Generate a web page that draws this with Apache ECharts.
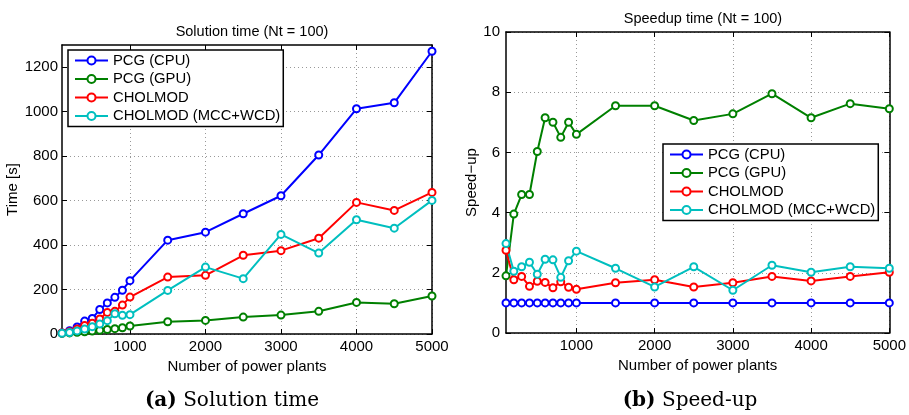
<!DOCTYPE html>
<html>
<head>
<meta charset="utf-8">
<script src="https://cdn.jsdelivr.net/npm/echarts@6/dist/echarts.min.js"></script>
<style>
html, body { margin: 0; padding: 0; background: #fff; }
#main { width: 909px; height: 415px; }
</style>
</head>
<body>
<div id="main"></div>
<script>
var plants = [100, 200, 300, 400, 500, 600, 700, 800, 900, 1000, 1500, 2000, 2500, 3000, 3500, 4000, 4500, 5000];
var xTicks = [1000, 2000, 3000, 4000, 5000];
var timeTicks = [0, 200, 400, 600, 800, 1000, 1200];

// solution time [s]
var timePcgCpu = [5, 15, 32, 58, 70, 110, 140, 165, 197, 240, 422, 458, 541, 622, 805, 1013, 1040, 1272];
var timePcgGpu = [3, 5, 8, 10, 13, 17, 20, 24, 28, 36, 55, 61, 76, 85, 102, 142, 136, 171];
var timeChol = [5, 10, 22, 38, 48, 68, 97, 102, 130, 166, 256, 264, 354, 375, 431, 592, 556, 637];
var timeCholMcc = [3, 7, 14, 22, 33, 45, 60, 91, 84, 87, 196, 301, 249, 448, 364, 514, 476, 601];

// speed-up
var spPcgCpu = [1, 1, 1, 1, 1, 1, 1, 1, 1, 1, 1, 1, 1, 1, 1, 1, 1, 1];
var spPcgGpu = [1.9, 3.95, 4.6, 4.6, 6.03, 7.15, 7.0, 6.5, 7.0, 6.6, 7.55, 7.55, 7.06, 7.28, 7.95, 7.15, 7.62, 7.45];
var spChol = [2.75, 1.77, 1.88, 1.55, 1.72, 1.68, 1.5, 1.7, 1.52, 1.45, 1.67, 1.77, 1.53, 1.67, 1.88, 1.73, 1.88, 2.02];
var spCholMcc = [2.97, 2.05, 2.2, 2.35, 1.95, 2.45, 2.43, 1.85, 2.4, 2.72, 2.15, 1.53, 2.2, 1.42, 2.25, 2.02, 2.2, 2.15];

var names = ['PCG (CPU)', 'PCG (GPU)', 'CHOLMOD', 'CHOLMOD (MCC+WCD)'];
var colors = ['#0000ff', '#008000', '#ff0000', '#00bfbf'];

var font = 'Liberation Sans';

function pairs(ys) {
    return plants.map(function (x, i) { return [x, ys[i]]; });
}

function plain(v) { return String(v); }

function mkSeries(name, color, ys, gi) {
    return {
        name: name,
        type: 'line',
        xAxisIndex: gi,
        yAxisIndex: gi,
        data: pairs(ys),
        symbol: 'emptyCircle',
        symbolSize: 7,
        color: color,
        lineStyle: { width: 2, color: color },
        itemStyle: { color: color, borderColor: color, borderWidth: 1.6 },
        emphasis: { disabled: true },
        animation: false
    };
}

var boxLine = { show: true, onZero: false, lineStyle: { color: '#000', width: 1.5 } };
var gridLine = { show: true, lineStyle: { color: '#999', type: [1, 3], width: 1 } };

function xMain(gi) {
    return {
        type: 'value', gridIndex: gi, min: 100, max: 5000,
        name: 'Number of power plants', nameLocation: 'middle', nameGap: 20,
        nameTextStyle: { fontFamily: font, fontSize: 15, color: '#000' },
        axisLine: boxLine,
        axisTick: { inside: true, length: 5, customValues: xTicks, lineStyle: { color: '#000' } },
        axisLabel: { customValues: xTicks, formatter: plain, fontFamily: font, fontSize: 15, color: '#000', margin: 5 },
        splitLine: gridLine
    };
}
function xTop(gi) {
    return {
        type: 'value', gridIndex: gi, min: 100, max: 5000, position: 'top',
        axisLine: boxLine,
        axisTick: { inside: true, length: 5, customValues: xTicks, lineStyle: { color: '#000' } },
        axisLabel: { show: false },
        splitLine: { show: false }
    };
}

var option = {
    backgroundColor: '#fff',
    animation: false,
    title: [
        { text: 'Solution time (Nt = 100)', left: 247, top: 19, textAlign: 'center',
          textStyle: { fontFamily: font, fontSize: 14.5, fontWeight: 'normal', color: '#000' } },
        { text: 'Speedup time (Nt = 100)', left: 698, top: 6, textAlign: 'center',
          textStyle: { fontFamily: font, fontSize: 14.5, fontWeight: 'normal', color: '#000' } },
        { text: '{b|(a)} Solution time', left: 227, top: 386, textAlign: 'center',
          textStyle: { fontFamily: 'DejaVu Serif', fontSize: 20, fontWeight: 'normal', color: '#000',
            rich: { b: { fontFamily: 'DejaVu Serif', fontSize: 20, fontWeight: 'bold', color: '#000' } } } },
        { text: '{b|(b)} Speed-up', left: 685, top: 386, textAlign: 'center',
          textStyle: { fontFamily: 'DejaVu Serif', fontSize: 20, fontWeight: 'normal', color: '#000',
            rich: { b: { fontFamily: 'DejaVu Serif', fontSize: 20, fontWeight: 'bold', color: '#000' } } } }
    ],
    legend: [
        { data: names, orient: 'vertical', left: 68, top: 50, itemWidth: 33, itemHeight: 10, itemGap: 3.5,
          padding: [3, 3, 3, 6], borderColor: '#000', borderWidth: 1.5, backgroundColor: '#fff',
          textStyle: { fontFamily: font, fontSize: 14.8, color: '#000' } },
        { data: names, orient: 'vertical', left: 663, top: 144, itemWidth: 33, itemHeight: 10, itemGap: 3.5,
          padding: [3, 3, 3, 6], borderColor: '#000', borderWidth: 1.5, backgroundColor: '#fff',
          textStyle: { fontFamily: font, fontSize: 14.8, color: '#000' } }
    ],
    grid: [
        { left: 62, top: 45, width: 370, height: 289 },
        { left: 506, top: 32, width: 384, height: 301 }
    ],
    xAxis: [xMain(0), xMain(1), xTop(0), xTop(1)],
    yAxis: [
        { type: 'value', gridIndex: 0, min: 0, max: 1300,
          name: 'Time [s]', nameLocation: 'middle', nameGap: 35,
          nameTextStyle: { fontFamily: font, fontSize: 15, color: '#000' },
          axisLine: boxLine,
          axisTick: { inside: true, length: 5, customValues: timeTicks, lineStyle: { color: '#000' } },
          axisLabel: { customValues: timeTicks, formatter: plain, fontFamily: font, fontSize: 15, color: '#000', margin: 4 },
          splitLine: gridLine },
        { type: 'value', gridIndex: 1, min: 0, max: 10, interval: 2,
          name: 'Speed\u2212up', nameLocation: 'middle', nameGap: 24,
          nameTextStyle: { fontFamily: font, fontSize: 15, color: '#000' },
          axisLine: boxLine,
          axisTick: { inside: true, length: 5, lineStyle: { color: '#000' } },
          axisLabel: { formatter: plain, fontFamily: font, fontSize: 15, color: '#000', margin: 6 },
          splitLine: gridLine },
        { type: 'value', gridIndex: 0, min: 0, max: 1300, position: 'right',
          axisLine: boxLine,
          axisTick: { inside: true, length: 5, customValues: timeTicks, lineStyle: { color: '#000' } },
          axisLabel: { show: false }, splitLine: { show: false } },
        { type: 'value', gridIndex: 1, min: 0, max: 10, interval: 2, position: 'right',
          axisLine: boxLine,
          axisTick: { inside: true, length: 5, lineStyle: { color: '#000' } },
          axisLabel: { show: false }, splitLine: { show: false } }
    ],
    series: [
        mkSeries(names[0], colors[0], timePcgCpu, 0),
        mkSeries(names[1], colors[1], timePcgGpu, 0),
        mkSeries(names[2], colors[2], timeChol, 0),
        mkSeries(names[3], colors[3], timeCholMcc, 0),
        mkSeries(names[0], colors[0], spPcgCpu, 1),
        mkSeries(names[1], colors[1], spPcgGpu, 1),
        mkSeries(names[2], colors[2], spChol, 1),
        mkSeries(names[3], colors[3], spCholMcc, 1)
    ]
};

var myChart = echarts.init(document.getElementById('main'));
myChart.setOption(option);
</script>
</body>
</html>
